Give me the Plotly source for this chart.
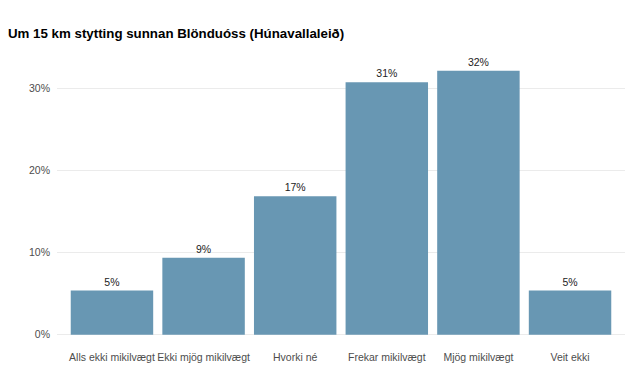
import plotly.graph_objects as go

categories = ["Alls ekki mikilvægt", "Ekki mjög mikilvægt", "Hvorki né",
              "Frekar mikilvægt", "Mjög mikilvægt", "Veit ekki"]
values = [0.054, 0.094, 0.169, 0.308, 0.322, 0.054]
labels = ["5%", "9%", "17%", "31%", "32%", "5%"]
y_ticks = [0, 0.1, 0.2, 0.3]
y_ticklabels = ["0%", "10%", "20%", "30%"]

fig = go.Figure(go.Bar(
    x=list(range(len(categories))), y=values,
    marker=dict(color="#6897b3", line=dict(width=0)),
    text=labels, textposition="outside", cliponaxis=False,
    textfont=dict(size=10.5, color="#222222"),
    width=0.9, hoverinfo="skip",
))

fig.update_layout(
    width=626, height=365,
    paper_bgcolor="white", plot_bgcolor="white",
    font=dict(family="Liberation Sans, Arial, sans-serif"),
    margin=dict(l=49, r=9, t=48, b=30),
    title=dict(text="<b>Um 15 km stytting sunnan Blönduóss (Húnavallaleið)</b>",
               x=0, xref="container", xanchor="left",
               y=1 - 25 / 365, yref="container", yanchor="middle",
               pad=dict(l=0, t=0, r=0, b=0),
               font=dict(size=13.3, color="black")),
    showlegend=False,
    bargap=0.1,
)
fig.update_xaxes(range=[-0.6, 5.6], tickvals=list(range(len(categories))),
                 ticktext=categories, showgrid=False, zeroline=False,
                 showline=False, ticks="", tickfont=dict(size=10.5, color="#4d4d4d"),
                 ticklabelstandoff=6)
fig.update_yaxes(range=[-0.01, 0.34], tickvals=y_ticks, ticktext=y_ticklabels,
                 showgrid=True, gridcolor="#ebebeb", gridwidth=1, zeroline=False,
                 ticks="", tickfont=dict(size=10.5, color="#4d4d4d"),
                 ticklabelstandoff=6)

fig.write_html("out.html")
